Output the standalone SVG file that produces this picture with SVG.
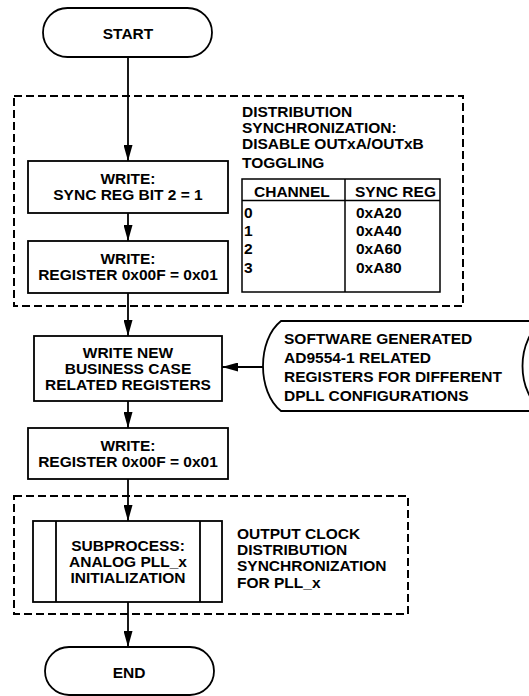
<svg xmlns="http://www.w3.org/2000/svg" width="529" height="696" viewBox="0 0 529 696">
<defs>
<style>
text{font-family:"Liberation Sans",Arial,sans-serif;font-weight:bold;font-size:15.5px;fill:#000}
.c{text-anchor:middle}
.box{fill:#fff;stroke:#000;stroke-width:1.8}
.dash{fill:none;stroke:#000;stroke-width:2;stroke-dasharray:8 4}
.ln{fill:none;stroke:#000;stroke-width:1.8}
.tb{fill:none;stroke:#000;stroke-width:1.5}
</style>
<marker id="ah" markerUnits="userSpaceOnUse" viewBox="0 0 16 9" refX="16" refY="4.5" markerWidth="16" markerHeight="9" orient="auto">
<path d="M0,0 L16,4.5 L0,9 z" fill="#000"/>
</marker>
</defs>
<rect width="529" height="696" fill="#fff"/>

<g id="group-sync">
<rect class="dash" x="14" y="96" width="449" height="210"/>
</g>
<g id="group-pll">
<rect class="dash" x="14" y="496" width="394" height="118"/>
</g>

<g id="connectors">
<line class="ln" x1="128" y1="57" x2="128" y2="161" marker-end="url(#ah)"/>
<line class="ln" x1="128" y1="213" x2="128" y2="241" marker-end="url(#ah)"/>
<line class="ln" x1="128" y1="293" x2="128" y2="336" marker-end="url(#ah)"/>
<line class="ln" x1="128" y1="401" x2="128" y2="428" marker-end="url(#ah)"/>
<line class="ln" x1="128" y1="479" x2="128" y2="521" marker-end="url(#ah)"/>
<line class="ln" x1="128" y1="602" x2="128" y2="647" marker-end="url(#ah)"/>
<line class="ln" x1="264" y1="367" x2="222" y2="367" marker-end="url(#ah)"/>
</g>

<g id="start">
<rect class="box" x="43" y="8" width="169" height="49" rx="24.5"/>
<text class="c" x="128" y="39">START</text>
</g>

<g id="write-sync">
<rect class="box" x="28" y="161" width="200" height="52"/>
<text class="c" x="128" y="184">WRITE:</text>
<text class="c" x="128" y="200">SYNC REG BIT 2 = 1</text>
</g>

<g id="write-reg1">
<rect class="box" x="28" y="241" width="200" height="52"/>
<text class="c" x="128" y="264">WRITE:</text>
<text class="c" x="128" y="280">REGISTER 0x00F = 0x01</text>
</g>

<g id="sync-note">
<text x="242" y="117">DISTRIBUTION</text>
<text x="242" y="133">SYNCHRONIZATION:</text>
<text x="242" y="149">DISABLE OUTxA/OUTxB</text>
<text x="242" y="168">TOGGLING</text>
<rect class="tb" x="242" y="179" width="198" height="113"/>
<line class="tb" x1="242" y1="200.5" x2="440" y2="200.5"/>
<line class="tb" x1="345" y1="179" x2="345" y2="292"/>
<text x="254" y="197">CHANNEL</text>
<text x="355" y="197">SYNC REG</text>
<text x="244" y="218">0</text>
<text x="356" y="218">0xA20</text>
<text x="244" y="236">1</text>
<text x="356" y="236">0xA40</text>
<text x="244" y="254">2</text>
<text x="356" y="254">0xA60</text>
<text x="244" y="273">3</text>
<text x="356" y="273">0xA80</text>
</g>

<g id="write-new">
<rect class="box" x="34" y="336" width="188" height="65"/>
<text class="c" x="128" y="358">WRITE NEW</text>
<text class="c" x="128" y="374">BUSINESS CASE</text>
<text class="c" x="128" y="390">RELATED REGISTERS</text>
</g>

<g id="software-data">
<path class="box" d="M281,321 L545,321 C515,336 515,396 545,411 L281,411 C257,392 257,340 281,321 Z"/>
<text x="284" y="344">SOFTWARE GENERATED</text>
<text x="284" y="363">AD9554-1 RELATED</text>
<text x="284" y="382">REGISTERS FOR DIFFERENT</text>
<text x="284" y="401">DPLL CONFIGURATIONS</text>
</g>

<g id="write-reg2">
<rect class="box" x="28" y="428" width="200" height="51"/>
<text class="c" x="128" y="451">WRITE:</text>
<text class="c" x="128" y="467">REGISTER 0x00F = 0x01</text>
</g>

<g id="subprocess">
<rect class="box" x="33" y="521" width="189" height="81"/>
<line class="ln" x1="56" y1="521" x2="56" y2="602"/>
<line class="ln" x1="200" y1="521" x2="200" y2="602"/>
<text class="c" x="128" y="551">SUBPROCESS:</text>
<text class="c" x="128" y="567">ANALOG PLL_x</text>
<text class="c" x="128" y="583">INITIALIZATION</text>
</g>

<g id="pll-note">
<text x="237" y="539">OUTPUT CLOCK</text>
<text x="237" y="555">DISTRIBUTION</text>
<text x="237" y="571">SYNCHRONIZATION</text>
<text x="237" y="588">FOR PLL_x</text>
</g>

<g id="end">
<rect class="box" x="45" y="647" width="169" height="48" rx="24"/>
<text class="c" x="129" y="678">END</text>
</g>
</svg>
